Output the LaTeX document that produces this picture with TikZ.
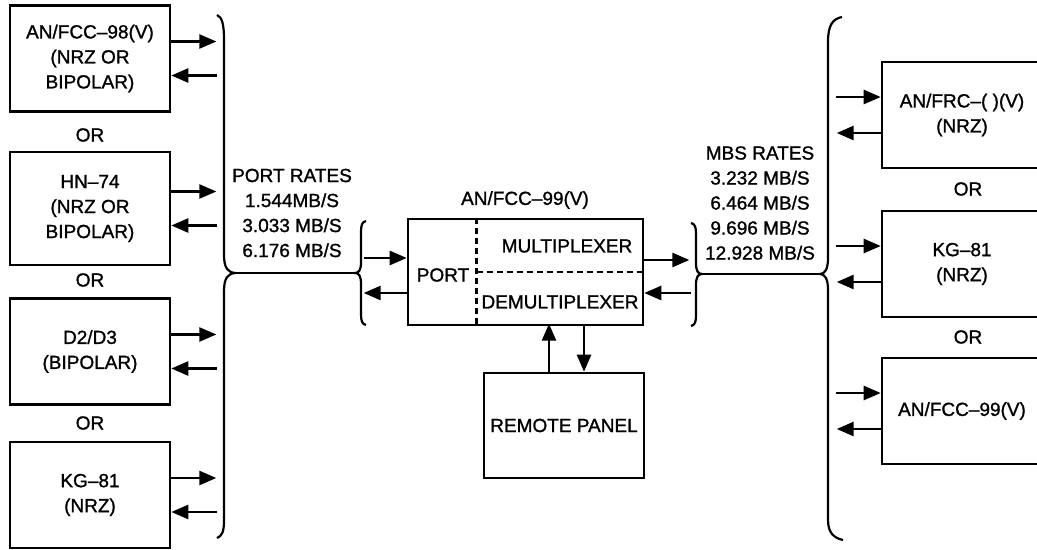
\documentclass[tikz,border=0pt]{standalone}
\usepackage{fontspec}
\setmainfont[FakeBold=1.2]{Liberation Sans}
\usetikzlibrary{arrows.meta}

\begin{document}
\begin{tikzpicture}[x=0.5pt, y=-0.5pt, font={\fontsize{9.5}{12.5}\selectfont},
    box/.style={draw, line width=1.3pt, minimum width=80pt, minimum height=53pt,
        align=center, inner sep=0pt},
    sig/.style={line width=1.3pt, -{Triangle[length=8.5pt, width=7pt]}},
    sigin/.style={line width=1.3pt, {Triangle[length=8.5pt, width=7pt]}-},
    brace/.style={line width=1.1pt},
    dashline/.style={line width=1.3pt, dash pattern=on 3pt off 2pt},
    lbl/.style={align=center, inner sep=0pt}]
    \useasboundingbox (0,0) rectangle (1037,550);
    \clip (0,0) rectangle (1037,550);

    % terminals on the port side
    \node[box] (b1) at (90,58.5) {AN/FCC–98(V)\\(NRZ OR\\BIPOLAR)};
    \node[box, minimum height=56.5pt] (b2) at (90,208.5) {HN–74\\(NRZ OR\\BIPOLAR)};
    \node[box] (b3) at (90,351.5) {D2/D3\\(BIPOLAR)};
    \node[box] (b4) at (90,495) {KG–81\\(NRZ)};
    \node (or1) at (90,135) {OR};
    \node (or2) at (90,280) {OR};
    \node (or3) at (90,423) {OR};
    \foreach \n in {b1,b2,b3,b4} {
        \draw[sig] ([yshift=8.5pt]\n.east) -- +(45,0);
        \draw[sigin] ([yshift=-8.5pt]\n.east) -- +(46,0);
    }

    % terminals on the MBS side
    \node[box] (r1) at (962,115) {AN/FRC–(\;)(V)\\(NRZ)};
    \node[box] (r2) at (962,264) {KG–81\\(NRZ)};
    \node[box] (r3) at (962,411) {AN/FCC–99(V)};
    \node (or4) at (968,189) {OR};
    \node (or5) at (968,337) {OR};
    \foreach \n in {r1,r2,r3} {
        \draw[sigin] ([yshift=9pt]\n.west) -- +(-45,0);
        \draw[sig] ([yshift=-9pt]\n.west) -- +(-44,0);
    }

    % multiplexer
    \node[box, minimum width=117.5pt] (mux) at (525.5,272) {};
    \node (title) at (525,200) {AN/FCC–99(V)};
    \draw[dashline] ([xshift=35pt]mux.north west) -- ([xshift=35pt]mux.south west);
    \draw[dashline] ([xshift=35pt]mux.west) -- (mux.east);
    \node (port) at (443,275) {PORT};
    \node (mx) at (567,246) {MULTIPLEXER};
    \node (dmx) at (560,302) {DEMULTIPLEXER};
    \draw[sigin] ([yshift=7pt]mux.west) -- +(-43,0);
    \draw[sig] ([yshift=-10.5pt]mux.west) -- +(-43,0);
    \draw[sig] ([yshift=6pt]mux.east) -- +(45,0);
    \draw[sigin] ([yshift=-10.5pt]mux.east) -- +(47,0);

    \node[box, minimum height=52.5pt] (rp) at (564,425.5) {REMOTE PANEL};
    \draw[sig] ([xshift=-7.5pt]rp.north) -- +(0,-48);
    \draw[sigin] ([xshift=10pt]rp.north) -- +(0,-48);

    % rates and braces
    \node[lbl] (prates) at (292,213) {PORT RATES\\1.544MB/S\\3.033 MB/S\\6.176 MB/S};
    \node[lbl] (mrates) at (760,203) {MBS RATES\\3.232 MB/S\\6.464 MB/S\\9.696 MB/S\\12.928 MB/S};

    \draw[brace] (217,15) .. controls (222,17) and (224,24) .. (224,40) -- (224,255)
        .. controls (224,268) and (228,273) .. (236,273)
        .. controls (228,273) and (224,278) .. (224,291) -- (224,520)
        .. controls (224,532) and (222,536) .. (217,538);
    \draw[brace] (366,221) .. controls (362,222) and (361,225) .. (361,232) -- (361,262)
        .. controls (361,270) and (359,273) .. (355,273)
        .. controls (359,273) and (361,276) .. (361,284) -- (361,314)
        .. controls (361,321) and (362,324) .. (366,325);
    \draw[brace] (236,273) -- (355,273);

    \draw[brace] (691,223) .. controls (695,224) and (696,227) .. (696,234) -- (696,263)
        .. controls (696,271) and (698,274) .. (702,274)
        .. controls (698,274) and (696,277) .. (696,285) -- (696,315)
        .. controls (696,322) and (695,325) .. (691,326);
    \draw[brace] (842,17) .. controls (832,19) and (828,26) .. (828,42) -- (828,258)
        .. controls (828,269) and (825,274) .. (820,274)
        .. controls (825,274) and (828,279) .. (828,290) -- (828,520)
        .. controls (828,533) and (834,538) .. (843,540);
    \draw[brace] (702,274) -- (820,274);
\end{tikzpicture}
\end{document}
